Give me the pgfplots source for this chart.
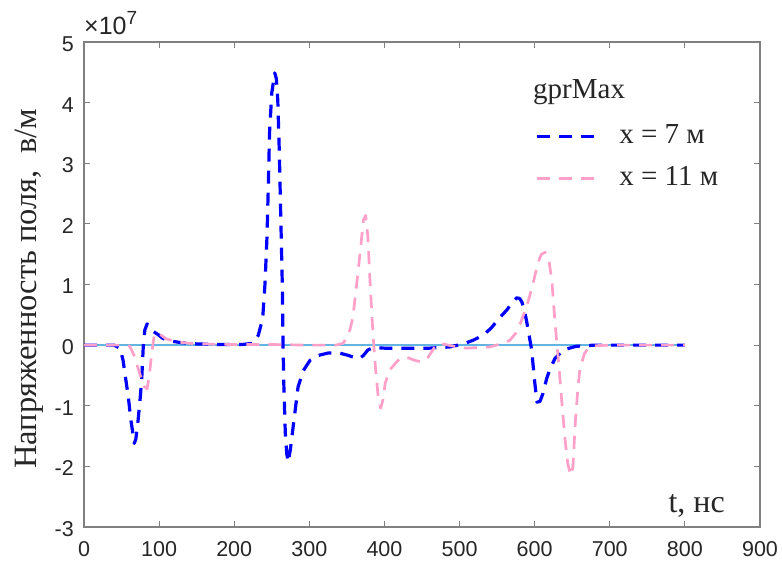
\documentclass[border=0pt]{standalone}
\usepackage{fontspec}
\setmainfont{Liberation Serif}
\newfontfamily\sansf{Liberation Sans}
\newfontfamily\serf{Liberation Serif}
\usepackage{pgfplots}
\pgfplotsset{compat=1.18}
\definecolor{myblue}{RGB}{0,0,255}
\definecolor{mypink}{RGB}{255,160,200}
\definecolor{zeroblue}{RGB}{100,180,225}
\definecolor{axgray}{RGB}{128,128,128}
\definecolor{txtgray}{RGB}{38,38,38}
\begin{document}
\begin{tikzpicture}
\useasboundingbox (0pt,0pt) rectangle (782pt,568pt);
\begin{axis}[
  at={(84pt,41pt)}, anchor=south west,
  width=676pt, height=485pt, scale only axis,
  xmin=0, xmax=900, ymin=-3, ymax=5,
  xtick={0,100,...,900}, ytick={-3,-2,...,5},
  tick align=inside, major tick length=6pt,
  axis line style={draw=axgray, line width=1.5pt},
  every tick/.style={draw=axgray, line width=1pt},
  tick label style={font=\sansf\fontsize{21.5}{21.5}\selectfont, text=txtgray},
  /pgf/number format/assume math mode=true,
  xticklabel style={anchor=north, inner sep=0pt, yshift=-14pt},
  yticklabel style={anchor=east, inner sep=0pt, xshift=-10pt, yshift=-2pt},
  xlabel={t, нс},
  xlabel style={at={(axis cs:853.4,-2.753)}, anchor=base east, inner sep=0pt, font=\serf\fontsize{32}{32}\selectfont, text=txtgray},
  ylabel={Напряженность поля,~~в/м},
  ylabel style={at={(axis cs:-53.3,0.93)}, anchor=south, inner sep=0pt, font=\serf\fontsize{32.5}{32.5}\selectfont, text=txtgray},
  legend image code/.code={\draw[#1] (0pt,0pt) -- (62pt,0pt);},
  legend style={at={(axis cs:600.4,3.663)}, anchor=north west, draw=none, fill=none, inner sep=0pt,
    font=\serf\fontsize{29}{29}\selectfont, text=txtgray,
    nodes={inner sep=0pt, text height=20pt, text depth=6pt},
    column sep=19pt, row sep=16pt},
  legend cell align=left,
  clip=false,
]
\addplot[zeroblue, line width=2.2pt, forget plot] coordinates {(0,0) (800,0)};
\addplot[myblue, line width=3.2pt, dash pattern=on 13pt off 9pt, line join=round] coordinates {
(0,0) (40,0) (48,-0.05) (52,-0.25) (56,-0.6) (59,-0.85) (62,-1.2) (65,-1.45) (67,-1.62) (69,-1.55) (72,-1.24) (75,-0.85) (77,-0.52) (79,0) (81,0.25) (84,0.35) (88,0.3) (93,0.22) (99,0.17) (105,0.11) (114,0.07) (130,0.04) (150,0.02) (180,0.01) (210,0.01) (225,0.03) (232,0.16) (236,0.35) (238,0.46) (241,1.02) (243.6,1.78) (245.5,2.67) (247,3.5) (250,4.16) (254,4.49) (256,4.4) (258,4.04) (260,3.2) (262,2.1) (264,1.0) (265,0) (266,-0.63) (268,-1.45) (270,-1.8) (272,-1.93) (275,-1.7) (279,-1.29) (285,-0.69) (292,-0.42) (301,-0.25) (312,-0.17) (325,-0.13) (340,-0.13) (352,-0.17) (361,-0.21) (367,-0.22) (372,-0.17) (378,-0.08) (385,-0.04) (400,-0.05) (430,-0.05) (460,-0.05) (487,-0.03) (505,0.02) (518,0.08) (531,0.16) (542,0.28) (554,0.46) (563,0.58) (570,0.7) (576,0.78) (580,0.77) (583,0.71) (587,0.54) (591,0.28) (596,-0.08) (600,-0.6) (603,-0.94) (607,-0.93) (611,-0.8) (616,-0.55) (620,-0.41) (627,-0.22) (638,-0.08) (655,-0.02) (680,0) (800,0)};
\addlegendentry{x = 7 м}
\addplot[mypink, line width=2.7pt, dash pattern=on 13pt off 9pt, line join=round] coordinates {
(0,0) (55,0) (61,-0.02) (66,-0.15) (70,-0.3) (75,-0.5) (80,-0.68) (84,-0.72) (87,-0.5) (90,-0.15) (93,0.12) (97,0.21) (102,0.17) (110,0.1) (125,0.05) (150,0.02) (200,0.01) (250,0.01) (300,0) (335,0) (345,0.03) (350,0.13) (354,0.25) (358,0.46) (363,1.0) (368,1.57) (372,2.06) (375,2.14) (378,1.78) (381,1.0) (385,0.13) (388,-0.36) (392,-0.9) (395,-1.04) (398,-0.9) (401,-0.63) (407,-0.41) (416,-0.28) (421,-0.22) (430,-0.2) (440,-0.25) (450,-0.28) (458,-0.2) (466,-0.05) (474,0.03) (485,0.0) (500,-0.04) (510,-0.05) (525,-0.04) (540,-0.03) (555,0.02) (567,0.08) (575,0.2) (581,0.36) (590,0.66) (598,1.02) (604,1.35) (609,1.5) (614,1.53) (619,1.4) (623,1.05) (626,0.55) (629,0.1) (632,-0.3) (636,-0.91) (640,-1.5) (644,-1.95) (648,-2.15) (651,-2.0) (654,-1.3) (657,-0.8) (660,-0.41) (666,-0.15) (671,-0.05) (680,-0.01) (700,0) (800,0)};
\addlegendentry{x = 11 м}
\node[anchor=base west, inner sep=0pt, font=\serf\fontsize{29}{29}\selectfont, text=txtgray] at (axis cs:597.8,4.06) {gprMax};
\node[anchor=base west, inner sep=0pt, font=\sansf\fontsize{25}{25}\selectfont, text=txtgray] at ([yshift=7pt]rel axis cs:0,1) {×10\raisebox{0.42em}{\fontsize{19}{19}\selectfont 7}};
\end{axis}
\end{tikzpicture}
\end{document}
